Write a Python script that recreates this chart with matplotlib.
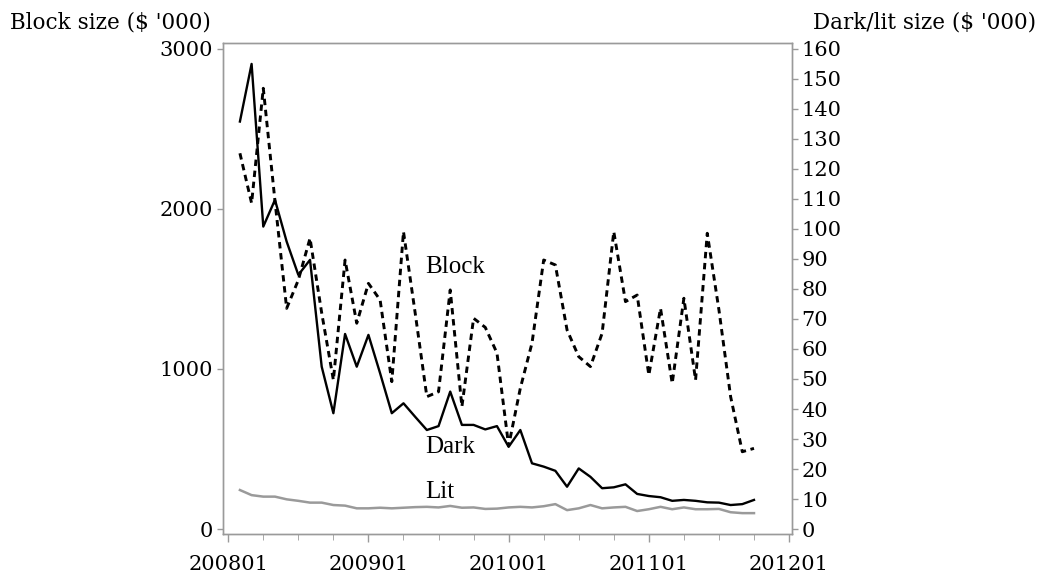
import matplotlib
matplotlib.use("Agg")
import matplotlib.pyplot as plt
from matplotlib.ticker import MultipleLocator, FixedLocator

# monthly observations, 200802 .. 201110
months = [f"{2008 + (m - 1) // 12}{(m - 1) % 12 + 1:02d}" for m in range(2, 47)]
month_idx = list(range(1, 46))

block_size = [2348, 2036, 2754, 2050, 1379, 1556, 1817, 1350, 931, 1681,
              1286, 1535, 1431, 921, 1858, 1350, 827, 858, 1494, 765,
              1317, 1260, 1100, 520, 880, 1162, 1681, 1650, 1244, 1077,
              1015, 1223, 1858, 1421, 1462, 962, 1379, 910, 1442, 931,
              1848, 1369, 827, 483, 504]

dark_size = [135.8, 155.0, 100.8, 109.7, 95.8, 84.7, 89.7, 54.1, 38.6, 65.0,
             54.1, 64.7, 51.9, 38.6, 41.9, 37.4, 33.0, 34.3, 45.8, 34.7,
             34.7, 33.2, 34.3, 27.4, 33.0, 21.9, 20.8, 19.4, 14.1, 20.2,
             17.4, 13.6, 13.9, 14.9, 11.7, 11.0, 10.6, 9.4, 9.7, 9.4,
             8.9, 8.8, 8.0, 8.3, 9.7]

lit_size = [13.0, 11.3, 10.8, 10.8, 9.9, 9.4, 8.8, 8.8, 8.0, 7.8,
            6.9, 6.9, 7.1, 6.9, 7.1, 7.3, 7.4, 7.2, 7.7, 7.1,
            7.2, 6.7, 6.8, 7.2, 7.4, 7.2, 7.6, 8.3, 6.3, 6.9,
            8.0, 6.9, 7.2, 7.4, 6.0, 6.6, 7.4, 6.6, 7.2, 6.6,
            6.6, 6.7, 5.6, 5.3, 5.3]

year_ticks = [0, 12, 24, 36, 48]
year_labels = ["200801", "200901", "201001", "201101", "201201"]

SPINE = "#9a9a9a"
TICK_FONT = "DejaVu Serif"
LABEL_FONT = "Liberation Serif"

fig = plt.figure(figsize=(10.4, 5.81), dpi=100)
ax = fig.add_axes([0.2144, 0.0809, 0.5471, 0.8451])
ax2 = ax.twinx()

ax.plot(month_idx, block_size, color="black", lw=2.1, ls=(0, (2.2, 1.6)))
ax2.plot(month_idx, lit_size, color="#9a9a9a", lw=1.8)
ax2.plot(month_idx, dark_size, color="black", lw=1.7)

ax.set_xlim(-0.45, 48.25)
ax.set_ylim(-31, 3037)
ax2.set_ylim(-31 * 160 / 3000, 3037 * 160 / 3000)

ax.xaxis.set_major_locator(FixedLocator(year_ticks))
ax.set_xticklabels(year_labels)
ax.xaxis.set_minor_locator(MultipleLocator(3))
ax.yaxis.set_major_locator(MultipleLocator(1000))
ax2.yaxis.set_major_locator(MultipleLocator(10))

for a in (ax, ax2):
    for sp in a.spines.values():
        sp.set_color(SPINE)
        sp.set_linewidth(1.0)
    a.tick_params(colors=SPINE, labelcolor="black", width=1.0)
    for lab in a.get_xticklabels() + a.get_yticklabels():
        lab.set_fontfamily(TICK_FONT)
        lab.set_fontsize(15)

ax.tick_params(axis="x", which="major", length=6, pad=9)
ax.tick_params(axis="x", which="minor", length=4, color=SPINE)
ax.tick_params(axis="y", length=4, pad=3)
ax2.tick_params(axis="y", length=4, pad=3)

ax.text(16.9, 1637, "Block", family=LABEL_FONT, fontsize=18, ha="left", va="center")
ax.text(16.9, 512, "Dark", family=LABEL_FONT, fontsize=18, ha="left", va="center")
ax.text(16.9, 231, "Lit", family=LABEL_FONT, fontsize=18, ha="left", va="center")

fig.text(10 / 1040, 1 - 22 / 581, "Block size ($ '000)", family=TICK_FONT,
         fontsize=15.5, ha="left", va="center")
fig.text(1036 / 1040, 1 - 22 / 581, "Dark/lit size ($ '000)", family=TICK_FONT,
         fontsize=15.5, ha="right", va="center")

fig.savefig("out.png", dpi=100)
